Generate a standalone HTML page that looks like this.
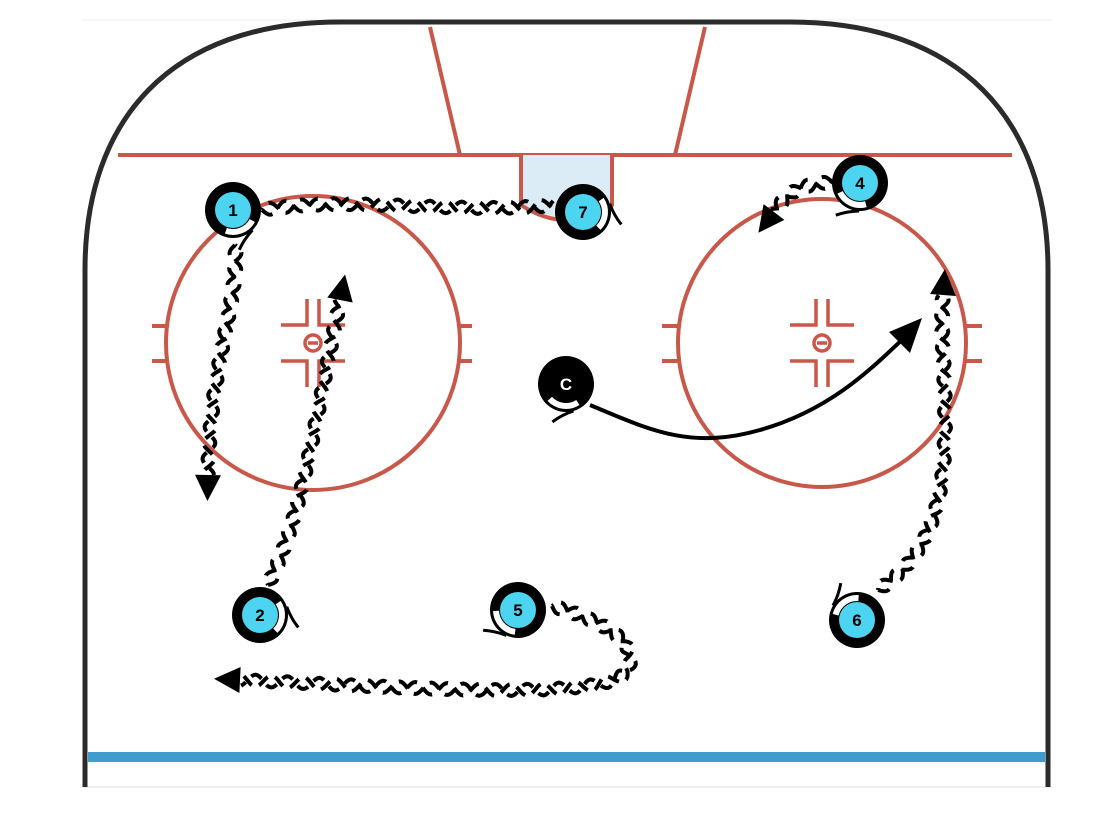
<!DOCTYPE html>
<html><head><meta charset="utf-8"><style>
html,body{margin:0;padding:0;background:#fff;}
svg{display:block;}
text{font-family:"Liberation Sans",sans-serif;font-weight:bold;}
</style></head><body>
<svg id="s" width="1112" height="814" viewBox="0 0 1112 814" xmlns="http://www.w3.org/2000/svg">
<line x1="82" y1="20" x2="1052" y2="20" stroke="#eee" stroke-width="1"/>
<line x1="82" y1="787" x2="1052" y2="787" stroke="#ddd" stroke-width="1"/>
<path d="M85,787 L85,270 C85,120 170,22 340,22 L790,22 C960,22 1048,120 1048,270 L1048,787" fill="none" stroke="#2b2b2b" stroke-width="5"/>
<g stroke="#c9574a" stroke-width="4" fill="none">
<line x1="118" y1="155" x2="1012" y2="155"/>
<line x1="430" y1="27" x2="460" y2="155"/>
<line x1="705" y1="27" x2="675" y2="155"/>
<path d="M521,155 L521,205 Q566,235 612,205 L612,155" fill="#dcecf7"/>
<circle cx="313" cy="343" r="147"/>
<circle cx="822" cy="343" r="144"/>
<line x1="152" y1="326" x2="168" y2="326"/><line x1="152" y1="361" x2="168" y2="361"/>
<line x1="458" y1="326" x2="472" y2="326"/><line x1="458" y1="361" x2="472" y2="361"/>
<line x1="662" y1="326" x2="679" y2="326"/><line x1="662" y1="361" x2="679" y2="361"/>
<line x1="966" y1="326" x2="982" y2="326"/><line x1="966" y1="361" x2="982" y2="361"/>
</g>
<g id="dots" stroke="#c9574a" stroke-width="3.5" fill="none"></g>
<line x1="88" y1="757" x2="1045" y2="757" stroke="#3e9dcd" stroke-width="10"/>
<g id="paths"></g>
<path d="M590,405 C650,430 690,450 760,430 C830,410 870,370 905,337" fill="none" stroke="#000" stroke-width="4"/>
<polygon points="922,318 889,332 910,353" fill="#000"/>
<g id="players"></g>
</svg>
<script>
var NS="http://www.w3.org/2000/svg";
function el(p,t,a){var e=document.createElementNS(NS,t);for(var k in a)e.setAttribute(k,a[k]);p.appendChild(e);return e;}
var dots=document.getElementById('dots');
[[313,343],[822,343]].forEach(function(c){
 var x=c[0],y=c[1];
 el(dots,'circle',{cx:x,cy:y,r:8});
 el(dots,'line',{x1:x-5,y1:y,x2:x+5,y2:y});
 el(dots,'path',{d:'M'+(x-6)+','+(y-44)+' L'+(x-6)+','+(y-18)+' L'+(x-32)+','+(y-18)});
 el(dots,'path',{d:'M'+(x+6)+','+(y-44)+' L'+(x+6)+','+(y-18)+' L'+(x+32)+','+(y-18)});
 el(dots,'path',{d:'M'+(x-6)+','+(y+44)+' L'+(x-6)+','+(y+18)+' L'+(x-32)+','+(y+18)});
 el(dots,'path',{d:'M'+(x+6)+','+(y+44)+' L'+(x+6)+','+(y+18)+' L'+(x+32)+','+(y+18)});
});
var P=document.getElementById('paths');
function wavy(d,arrow){
 var tmp=el(P,'path',{d:d,fill:'none'});
 var L=tmp.getTotalLength();
 for(var ph=0;ph<2;ph++){
  var s='';
  for(var t=0;t<=L;t+=2){
   var a=tmp.getPointAtLength(t),b=tmp.getPointAtLength(Math.min(L,t+1));
   var dx=b.x-a.x,dy=b.y-a.y,n=Math.hypot(dx,dy)||1;
   var o=6*Math.sin(t/16*Math.PI+ph*Math.PI);
   s+=(t?'L':'M')+(a.x-dy/n*o).toFixed(1)+','+(a.y+dx/n*o).toFixed(1);
  }
  el(P,'path',{d:s,fill:'none',stroke:'#000','stroke-width':4,'stroke-dasharray':'12 8','stroke-dashoffset':ph*10});
 }
 if(arrow!==false){
  var e=tmp.getPointAtLength(L),q=tmp.getPointAtLength(L-6);
  var ang=Math.atan2(e.y-q.y,e.x-q.x);
  var tip=[e.x+Math.cos(ang)*26,e.y+Math.sin(ang)*26];
  var l=[e.x-Math.sin(ang)*13,e.y+Math.cos(ang)*13],r=[e.x+Math.sin(ang)*13,e.y-Math.cos(ang)*13];
  el(P,'polygon',{points:tip+' '+l+' '+r,fill:'#000'});
 }
 P.removeChild(tmp);
}
wavy('M262,210 C350,195 450,215 555,205',false);
wavy('M235,245 C240,300 210,360 208,475');
wavy('M268,585 C300,520 310,450 340,300');
wavy('M552,606 C600,620 640,640 628,670 C610,700 450,690 240,680');
wavy('M878,590 C940,550 945,480 945,420 C945,360 940,330 943,295');
wavy('M832,182 C800,185 790,190 774,212');
var PL=document.getElementById('players');
function player(x,y,label,stick,inner){
 el(PL,'circle',{cx:x,cy:y,r:28,fill:'#000'});
 el(PL,'circle',{cx:x,cy:y,r:18,fill:inner});
 var a1=stick-0.7,a2=stick+0.7,R=22;
 el(PL,'path',{d:'M'+(x+R*Math.cos(a1))+','+(y+R*Math.sin(a1))+' A'+R+','+R+' 0 0 1 '+(x+R*Math.cos(a2))+','+(y+R*Math.sin(a2)),fill:'none',stroke:'#fff','stroke-width':6});
 var sx=x+31*Math.cos(stick),sy=y+31*Math.sin(stick);
 el(PL,'path',{d:'M'+(x+28*Math.cos(stick-0.4))+','+(y+28*Math.sin(stick-0.4))+' Q'+sx+','+sy+' '+(sx+12*Math.cos(stick+0.8))+','+(sy+12*Math.sin(stick+0.8)),fill:'none',stroke:'#000','stroke-width':3});
 var t=el(PL,'text',{x:x,y:y+6,'text-anchor':'middle','font-size':17,fill:label=='C'?'#fff':'#000'});t.textContent=label;
}
player(233,210,'1',1.2,'#4dd4f0');
player(583,212,'7',0.1,'#4dd4f0');
player(860,183,'4',2.0,'#4dd4f0');
player(566,384,'C',1.7,'#000');
player(260,615,'2',0.1,'#4dd4f0');
player(518,610,'5',2.4,'#4dd4f0');
player(857,620,'6',-2.2,'#4dd4f0');
</script>
</body></html>
